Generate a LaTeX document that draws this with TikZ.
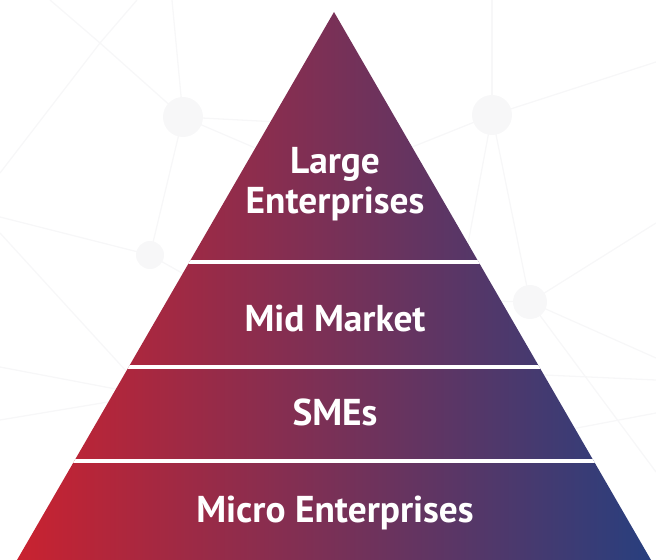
\documentclass[tikz,border=0pt]{standalone}
\usepackage{fontspec}
\setmainfont{PT Sans}
\definecolor{pyrRed}{HTML}{C92230}
\definecolor{pyrMid}{HTML}{613468}
\definecolor{pyrBlue}{HTML}{283F7E}
\definecolor{netGray}{HTML}{F7F7F8}

\begin{document}
\begin{tikzpicture}[x=1bp, y=-1bp,
                    tier/.style={text=white, font=\bfseries\fontsize{37.5}{40.5}\selectfont, align=center, anchor=base},
                    gap/.style={draw=white, line width=4bp},
                    net/.style={draw=netGray, line width=1.3bp},
                    hub/.style={fill=netGray},
                ]
                \useasboundingbox (0,0) rectangle (656,560);
                %Background network
                \coordinate (n1) at (183,117);
                \coordinate (n2) at (150,255);
                \coordinate (n3) at (492,115);
                \coordinate (n4) at (530,302);
                \coordinate (n5) at (100,43);
                \coordinate (h1) at (335,125);
                \coordinate (h2) at (330,180);
                \coordinate (h3) at (450,340);
                \coordinate (h4) at (230,300);
                \coordinate (h5) at (180,430);
                \coordinate (h6) at (450,300);
                \coordinate (h7) at (200,405);
                \coordinate (h8) at (150,395);
                \coordinate (h9) at (500,373);
                \coordinate (h10) at (540,435);
                \foreach \a/\x/\y in {n5/50/0, n5/137/0, n5/0/173, n1/172/0, n3/492/0, n3/656/62,
                                      n4/656/223, n4/656/358, n4/656/472, n2/0/217, h5/0/233,
                                      h7/0/367, h8/0/420, h9/656/380, h10/656/413}
                    \draw[net] (\a) -- (\x,\y);
                \foreach \a/\b in {n5/n1, n1/n2, n1/h1, n1/h2, n2/h4, n3/h2, n3/h3, n3/n4, n4/h6}
                    \draw[net] (\a) -- (\b);
                \foreach \c/\r in {n1/20, n2/14, n3/20, n4/17}
                    \fill[hub] (\c) circle (\r);
                %Pyramid
                \coordinate (top) at (334,12);
                \coordinate (bl)  at (17,560);
                \coordinate (br)  at (651,560);
                \shade[left color=pyrRed, middle color=pyrMid, right color=pyrBlue] (top) -- (bl) -- (br) -- cycle;
                \begin{scope}
                    \clip (top) -- (bl) -- (br) -- cycle;
                    \foreach \y in {262, 366.5, 461}
                        \draw[gap] (0,\y) -- (656,\y);
                \end{scope}
                %Labels
                \node[tier] (large) at (335,213.5) {Large\\Enterprises};
                \node[tier] (mid)   at (335,331.5) {Mid Market};
                \node[tier] (smes)  at (335,425) {SMEs};
                \node[tier] (micro) at (335,522) {Micro Enterprises};
            \end{tikzpicture}
\end{document}
